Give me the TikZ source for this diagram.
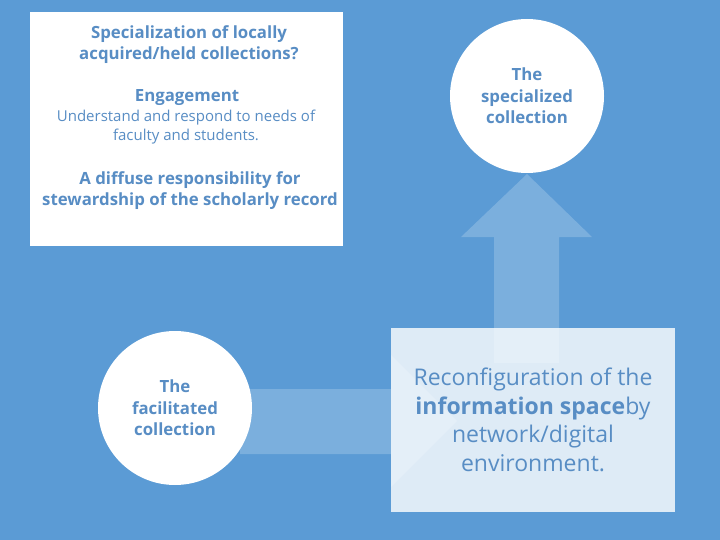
\documentclass[tikz,border=0pt]{standalone}
\usepackage{fontspec}
\setmainfont{Open Sans}
\definecolor{bgblue}{RGB}{91,155,213}
\definecolor{txtblue}{RGB}{88,141,196}
\tikzset{
  circ/.style={circle, fill=white, minimum size=154pt, inner sep=0pt, align=center,
    text=txtblue, font=\fontsize{16.8}{21.5}\selectfont\bfseries},
  panel/.style={rectangle, fill=white, inner sep=0pt},
  headtxt/.style={align=center, text=txtblue, font=\fontsize{16.8}{21}\selectfont\bfseries},
  bodytxt/.style={align=center, text=txtblue, font=\fontsize{15}{19}\selectfont},
  arrowfill/.style={fill=white, fill opacity=0.2}
}
\begin{document}
\begin{tikzpicture}[x=1pt,y=-1pt]
				\fill[bgblue] (0,0) rectangle (720,540);
				\useasboundingbox (0,0) rectangle (720,540);
				% white text panel
				\node[panel, minimum width=313pt, minimum height=234pt] (info) at (186.5,129) {};
				\node[headtxt] (spec) at (189,44.5) {Specialization of locally\\acquired/held collections?};
				\node[headtxt] (engage) at (187,98) {Engagement};
				\node[bodytxt] (needs) at (186,127.5) {Understand and respond to needs of\\faculty and students.};
				\node[headtxt] (steward) at (190,190.5) {A diffuse responsibility for\\stewardship of the scholarly record};
				% arrows
				\coordinate (A) at (240,389);
				\coordinate (B) at (391,389);
				\coordinate (C) at (457,421);
				\coordinate (D) at (527,174);
				\fill[arrowfill] (A) -- (B) -- (391,355) -- (C) -- (391,487) -- (391,454) -- (240,454) -- cycle;
				\fill[arrowfill] (494,363) -- (494,237) -- (461,237) -- (D) -- (592,237) -- (559,237) -- (559,363) -- cycle;
				% circles
				\node[circ] (specialized) at (527,96) {The\\specialized\\collection};
				\node[circ] (facilitated) at (175,408) {The\\facilitated\\collection};
				% reconfiguration box
				\node[panel, fill opacity=0.8, text opacity=1, minimum width=284pt, minimum height=184pt,
					align=center, text=txtblue, font=\fontsize{23}{28.7}\selectfont] (reconf) at (533,420)
					{Reconfiguration of the\\\textbf{information space}by\\network/digital\\environment.};
			\end{tikzpicture}
\end{document}
